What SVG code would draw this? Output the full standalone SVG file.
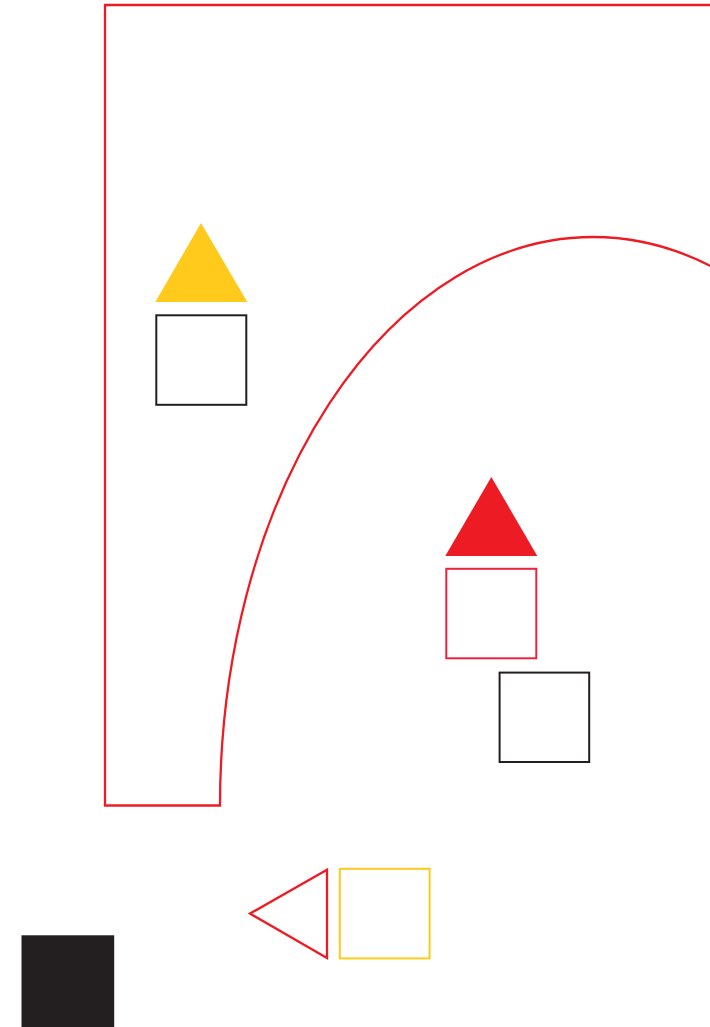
<svg xmlns="http://www.w3.org/2000/svg" width="710" height="1027" viewBox="0 0 710 1027">
<style>
.red{fill:none;stroke:#ED1C24;stroke-width:2.3}
.blk{fill:none;stroke:#231F20;stroke-width:2}
</style>
<rect width="710" height="1027" fill="#fff"/>
<path id="boundary" class="red" d="M 720 5 H 105 V 805.5 H 220 A 373 568.5 0 0 1 593 237 A 373 568.5 0 0 1 966 805.5"/>
<g id="yellow-triangle"><polygon points="201,223 155.3,302 247.3,302" fill="#FFCA1B"/></g>
<g id="black-square-1"><rect class="blk" x="156.3" y="315.3" width="90" height="89.5"/></g>
<g id="red-triangle"><polygon points="491.3,477 445.3,556 537.3,556" fill="#ED1C24"/></g>
<g id="red-square"><rect x="446.3" y="568.8" width="90" height="89.5" fill="none" stroke="#EC2340" stroke-width="2"/></g>
<g id="black-square-2"><rect class="blk" x="499.6" y="672.6" width="89.6" height="89.4"/></g>
<g id="red-outline-triangle"><polygon class="red" stroke-width="2" points="327,869.8 327,958 250,913.6"/></g>
<g id="yellow-square"><rect x="339.8" y="868.8" width="89.8" height="89.6" fill="none" stroke="#FFCA1B" stroke-width="2"/></g>
<g id="black-filled-square"><rect x="21.5" y="935.3" width="92.7" height="95" fill="#231F20"/></g>
</svg>
